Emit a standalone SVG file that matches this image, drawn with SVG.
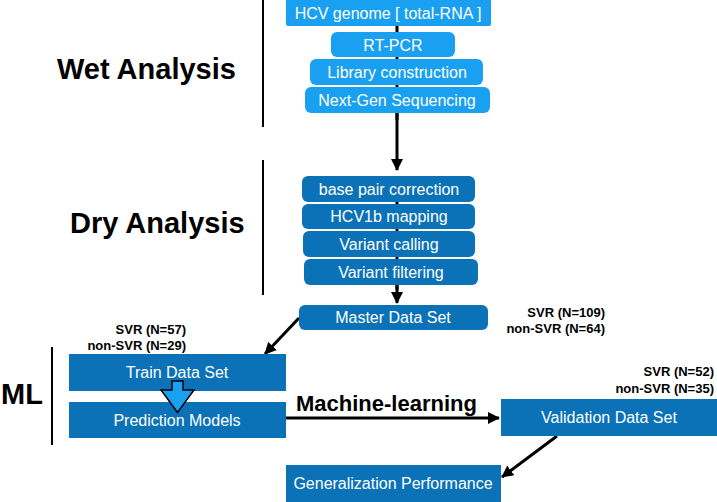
<svg xmlns="http://www.w3.org/2000/svg" width="717" height="502" viewBox="0 0 717 502">
<style>
.light{fill:#1aa0f0}
.dark{fill:#0b72b8}
.bt{font-family:"Liberation Sans",Arial,sans-serif;font-size:16px;fill:#ffffff;text-anchor:middle}
.title{font-family:"Liberation Sans",Arial,sans-serif;font-size:29px;font-weight:bold;fill:#000}
.n{font-family:"Liberation Sans",Arial,sans-serif;font-size:13px;font-weight:bold;fill:#000;text-anchor:end}
.conn{stroke:#000;stroke-width:3;fill:none}
.sep{stroke:#000;stroke-width:2;fill:none}
</style>
<defs>
<marker id="ah" markerUnits="userSpaceOnUse" markerWidth="12" markerHeight="12" viewBox="0 0 12 12" refX="11" refY="6" orient="auto">
<path d="M0,0 L12,6 L0,12 Z" fill="#000"/>
</marker>
</defs>
<rect width="717" height="502" fill="#ffffff"/>
<g id="section-labels">
<text class="title" x="57" y="79">Wet Analysis</text>
<line class="sep" x1="263" y1="0" x2="263" y2="127"/>
<text class="title" x="70" y="233">Dry Analysis</text>
<line class="sep" x1="263" y1="160" x2="263" y2="295"/>
<text class="title" x="1" y="404" font-size="28">ML</text>
<line class="sep" x1="52" y1="347" x2="52" y2="445"/>
</g>
<g id="connectors">
<line class="conn" x1="397" y1="20" x2="397" y2="120"/>
<line class="conn" x1="397" y1="113" x2="397" y2="170" marker-end="url(#ah)"/>
<line class="conn" x1="397" y1="190" x2="397" y2="290"/>
<line class="conn" x1="397" y1="284" x2="397" y2="303" marker-end="url(#ah)"/>
<line class="conn" x1="299" y1="318" x2="265" y2="354" marker-end="url(#ah)"/>
<line class="conn" x1="286" y1="418" x2="499" y2="418" marker-end="url(#ah)"/>
<line class="conn" x1="557" y1="436" x2="502" y2="477" marker-end="url(#ah)"/>
</g>
<g id="n-hcv"><rect class="light" x="286" y="-4" width="205" height="30" rx="2"/><text class="bt" x="388" y="19">HCV genome [ total-RNA ]</text></g>
<g id="n-rtpcr"><rect class="light" x="331" y="32" width="124" height="25" rx="6"/><text class="bt" x="393" y="50.5">RT-PCR</text></g>
<g id="n-lib"><rect class="light" x="310" y="59" width="173" height="26" rx="6"/><text class="bt" x="397" y="78">Library construction</text></g>
<g id="n-ngs"><rect class="light" x="305" y="87" width="185" height="26" rx="6"/><text class="bt" x="397" y="106">Next-Gen Sequencing</text></g>
<g id="n-bpc"><rect class="dark" x="302" y="176" width="173" height="26" rx="6"/><text class="bt" x="389" y="195">base pair correction</text></g>
<g id="n-map"><rect class="dark" x="302" y="204" width="173" height="25" rx="6"/><text class="bt" x="389" y="222">HCV1b mapping</text></g>
<g id="n-call"><rect class="dark" x="303" y="231" width="172" height="26" rx="6"/><text class="bt" x="389" y="250">Variant calling</text></g>
<g id="n-filt"><rect class="dark" x="304" y="259" width="174" height="26" rx="6"/><text class="bt" x="391" y="278">Variant filtering</text></g>
<g id="n-master"><rect class="dark" x="299" y="305" width="189" height="25" rx="6"/><text class="bt" x="393" y="323">Master Data Set</text></g>
<g id="n-train"><rect class="dark" x="69" y="354" width="217" height="37"/><text class="bt" x="177" y="378">Train Data Set</text></g>
<g id="n-pred"><rect class="dark" x="69" y="402" width="217" height="36"/><text class="bt" x="177" y="426">Prediction Models</text></g>
<g id="n-valid"><rect class="dark" x="501" y="399" width="216" height="37"/><text class="bt" x="609" y="423">Validation Data Set</text></g>
<g id="n-gen"><rect class="dark" x="286" y="465" width="215" height="38"/><text class="bt" x="393" y="489">Generalization Performance</text></g>
<g id="block-arrow"><polygon points="172,381 183,381 183,390 194,390 177.5,412.5 161,390 172,390" fill="#1aa0f0" stroke="#000" stroke-width="1.5" stroke-linejoin="miter"/></g>
<g id="labels">
<text class="n" x="186" y="334">SVR (N=57)</text>
<text class="n" x="186" y="350">non-SVR (N=29)</text>
<text class="n" x="605" y="317">SVR (N=109)</text>
<text class="n" x="605" y="333">non-SVR (N=64)</text>
<text class="n" x="714" y="376">SVR (N=52)</text>
<text class="n" x="714" y="393">non-SVR (N=35)</text>
<text x="296" y="411" font-family="Liberation Sans, Arial, sans-serif" font-size="22" font-weight="bold" fill="#000">Machine-learning</text>
</g>
</svg>
